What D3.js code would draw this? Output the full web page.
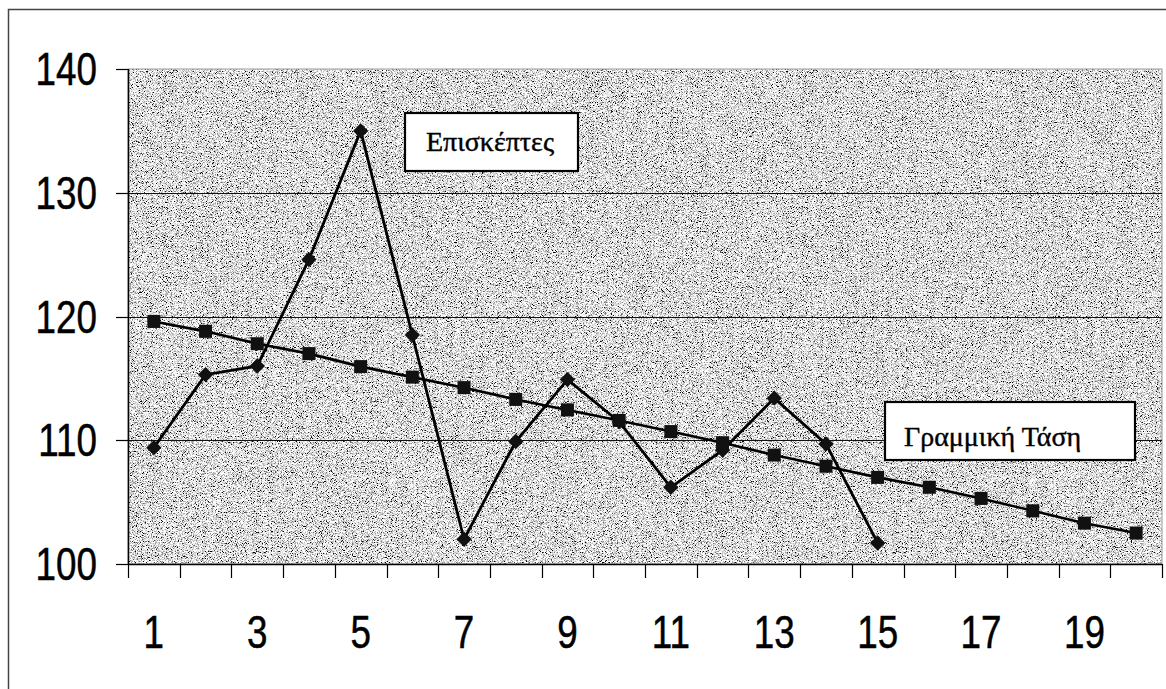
<!DOCTYPE html>
<html><head><meta charset="utf-8">
<script src="https://cdn.jsdelivr.net/npm/d3@7"></script>
<style>html,body{margin:0;padding:0;background:#fff;}svg{display:block;}</style>
</head><body>
<svg id="chart" width="1166" height="689"></svg>
<script>
const categories = d3.range(1, 21).map(String);
const visitors = [109.4, 115.3, 116.0, 124.6, 135.0, 118.5, 102.0, 109.9, 114.9, 111.5, 106.2, 109.2, 113.4, 109.7, 101.7];
const trend = [119.6, 118.8, 117.8, 117.0, 115.95, 115.1, 114.25, 113.3, 112.45, 111.6, 110.7, 109.8, 108.8, 107.9, 107.0, 106.2, 105.3, 104.3, 103.3, 102.5];
const yTicks = [100, 110, 120, 130, 140];
const xTickLabels = ["1","3","5","7","9","11","13","15","17","19"];
const seriesLabels = ["Επισκέπτες", "Γραμμική Τάση"];

const svg = d3.select("#chart");
const L = 128, R = 1162, T = 69, B = 564;

const x = d3.scaleBand().domain(categories).range([L, R]);
const y = d3.scaleLinear().domain([100, 140]).range([B, T]);
const cx = d => x(d) + x.bandwidth() / 2;

// outer frame
svg.append("path").attr("d", `M8.5,689 L8.5,9.5 L1166,9.5`).attr("fill", "none").attr("stroke", "#444").attr("stroke-width", 1.5);

// noise filter for plot background
const defs = svg.append("defs");
const f = defs.append("filter").attr("id", "noise").attr("x", 0).attr("y", 0).attr("width", "100%").attr("height", "100%");
f.append("feTurbulence").attr("type", "fractalNoise").attr("baseFrequency", 1.2).attr("numOctaves", 2).attr("seed", 7).attr("result", "t");
f.append("feColorMatrix").attr("in", "t").attr("type", "matrix")
  .attr("values", "3.4 0 0 0 -0.95  3.4 0 0 0 -0.95  3.4 0 0 0 -0.95  0 0 0 0 1");

svg.append("rect").attr("x", L).attr("y", T).attr("width", R - L).attr("height", B - T)
  .attr("fill", "#b0b0b0").attr("filter", "url(#noise)");
svg.append("rect").attr("x", L).attr("y", T).attr("width", R - L).attr("height", B - T)
  .attr("fill", "none").attr("stroke", "#999").attr("stroke-width", 1);

// gridlines
svg.append("g").selectAll("line").data(yTicks.filter(v => v > 100 && v < 140)).join("line")
  .attr("x1", L).attr("x2", R).attr("y1", d => Math.round(y(d)) + 0.5).attr("y2", d => Math.round(y(d)) + 0.5)
  .attr("stroke", "#111").attr("stroke-width", 1);

// y axis
svg.append("line").attr("x1", L + 0.5).attr("x2", L + 0.5).attr("y1", T).attr("y2", B).attr("stroke", "#000").attr("stroke-width", 1.5);
svg.append("g").selectAll("line").data(yTicks).join("line")
  .attr("x1", L - 12).attr("x2", L).attr("y1", d => Math.round(y(d)) + 0.5).attr("y2", d => Math.round(y(d)) + 0.5)
  .attr("stroke", "#000").attr("stroke-width", 1.2);
svg.append("g").selectAll("text").data(yTicks).join("text")
  .attr("transform", d => `translate(97,${y(d) + 16}) scale(0.8,1)`)
  .attr("text-anchor", "end").attr("font-family", "Liberation Sans, Arial, sans-serif")
  .attr("font-size", 46).attr("fill", "#000").attr("stroke", "#000").attr("stroke-width", 0.5).text(d => d);

// x axis
svg.append("line").attr("x1", L).attr("x2", R).attr("y1", B + 0.5).attr("y2", B + 0.5).attr("stroke", "#000").attr("stroke-width", 1.5);
const bounds = categories.map(c => x(c)).concat([R]);
svg.append("g").selectAll("line").data(bounds).join("line")
  .attr("x1", d => Math.round(d) + 0.5).attr("x2", d => Math.round(d) + 0.5).attr("y1", B).attr("y2", B + 14)
  .attr("stroke", "#000").attr("stroke-width", 1.2);
svg.append("g").selectAll("text").data(xTickLabels).join("text")
  .attr("transform", d => `translate(${cx(d)},648) scale(0.8,1)`)
  .attr("text-anchor", "middle").attr("font-family", "Liberation Sans, Arial, sans-serif")
  .attr("font-size", 46).attr("fill", "#000").attr("stroke", "#000").attr("stroke-width", 0.5).text(d => d);

// lines
const line = d3.line().x((d, i) => cx(categories[i])).y(d => y(d));
svg.append("path").datum(trend).attr("d", line).attr("fill", "none").attr("stroke", "#000").attr("stroke-width", 2.6);
svg.append("path").datum(visitors).attr("d", line).attr("fill", "none").attr("stroke", "#000").attr("stroke-width", 2.8);

// markers
svg.append("g").selectAll("rect").data(trend).join("rect")
  .attr("x", (d, i) => cx(categories[i]) - 6.5).attr("y", d => y(d) - 6.5)
  .attr("width", 13).attr("height", 13).attr("fill", "#111");
const diamond = d3.symbol().type(d3.symbolDiamond2).size(150);
svg.append("g").selectAll("path").data(visitors).join("path")
  .attr("transform", (d, i) => `translate(${cx(categories[i])},${y(d)})`)
  .attr("d", diamond).attr("fill", "#111");

// label boxes
const boxes = [
  {text: seriesLabels[0], x: 405, y: 113, w: 173, h: 58, tx: 426, ty: 151},
  {text: seriesLabels[1], x: 885, y: 402, w: 250, h: 58, tx: 904, ty: 446}
];
const bg = svg.append("g").selectAll("g").data(boxes).join("g");
bg.append("rect").attr("x", d => d.x).attr("y", d => d.y).attr("width", d => d.w).attr("height", d => d.h)
  .attr("fill", "#fff").attr("stroke", "#000").attr("stroke-width", 2.2);
bg.append("text").attr("x", d => d.tx).attr("y", d => d.ty)
  .attr("font-family", "Liberation Serif, Times New Roman, serif").attr("font-size", 28).attr("fill", "#000")
  .attr("stroke", "#000").attr("stroke-width", 0.4)
  .text(d => d.text);
</script>
</body></html>
